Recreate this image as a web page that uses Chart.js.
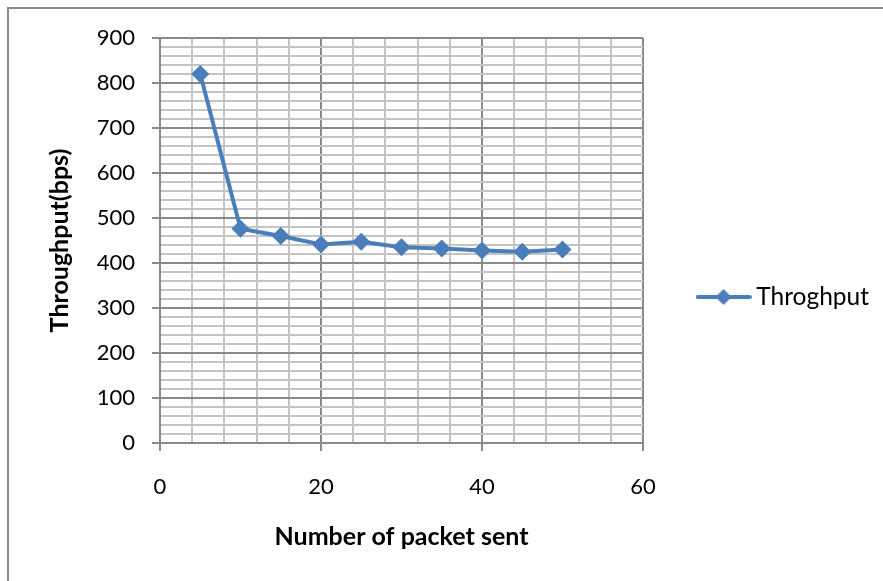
<!DOCTYPE html>
<html>
<head>
<meta charset="utf-8">
<script src="https://cdn.jsdelivr.net/npm/chart.js@4.4.1/dist/chart.umd.min.js"></script>
<style>
  html, body { margin: 0; padding: 0; background: #fff; }
  #wrap { position: relative; width: 883px; height: 581px; }
  #frame { position: absolute; left: 7px; top: 7px; right: 0; bottom: 0; border-left: 2px solid #8a8a8a; border-top: 2px solid #8a8a8a; }
  canvas { position: absolute; left: 0; top: 0; }
</style>
</head>
<body>
<div id="wrap">
  <div id="frame"></div>
  <canvas id="chart" width="883" height="581"></canvas>
</div>
<script>
// packets sent vs throughput
let packets = [5, 10, 15, 20, 25, 30, 35, 40, 45, 50];
let throughput = [820, 476, 460, 441, 447, 435, 432, 428, 425, 430];
let xLabels = [0, 20, 40, 60];
let yLabels = [0, 100, 200, 300, 400, 500, 600, 700, 800, 900];

const blue = '#4a7ebb';
const major = '#8a8a8a';
const minor = '#c4c4c4';

// legend icon: line with a diamond on it
function legendIcon() {
    let c = document.createElement('canvas');
    c.width = 56; c.height = 20;
    let g = c.getContext('2d');
    g.strokeStyle = blue;
    g.lineWidth = 4;
    g.lineCap = 'round';
    g.beginPath(); g.moveTo(2, 10); g.lineTo(54, 10); g.stroke();
    g.fillStyle = blue;
    g.beginPath(); g.moveTo(28, 2); g.lineTo(36, 10); g.lineTo(28, 18); g.lineTo(20, 10); g.closePath(); g.fill();
    return c;
}

// keep the legend column a fixed width so the plot ends where it should
const legendWidth = {
    id: 'legendWidth',
    afterInit(chart) {
        const lg = chart.legend;
        const fit = lg.fit.bind(lg);
        lg.fit = function () { fit(); this.width = 240; };
    }
};

let points = [];
for (let i = 0; i < packets.length; i++) {
    points.push({ x: packets[i], y: throughput[i] });
}

const ctx = document.getElementById('chart').getContext('2d');
const graph = new Chart(ctx, {
    type: 'scatter',
    data: {
        datasets: [{
            label: 'Throghput',
            data: points,
            showLine: true,
            borderColor: blue,
            backgroundColor: blue,
            borderWidth: 4,
            pointStyle: 'rectRot',
            pointRadius: 9,
            pointHoverRadius: 9,
            pointBorderWidth: 0
        }]
    },
    plugins: [legendWidth],
    options: {
        responsive: false,
        animation: false,
        layout: { padding: { left: 0, top: 38, right: 0, bottom: 25 } },
        plugins: {
            tooltip: { enabled: false },
            legend: {
                position: 'right',
                labels: {
                    usePointStyle: true,
                    pointStyle: legendIcon(),
                    pointStyleWidth: 41,
                    padding: 60,
                    color: '#000',
                    font: { family: 'Lato', size: 24.5 }
                }
            }
        },
        scales: {
            x: {
                type: 'linear',
                min: 0, max: 60,
                afterFit: function (scale) { scale.height = 113; },
                ticks: {
                    stepSize: 4,
                    autoSkip: false,
                    maxRotation: 0,
                    padding: 23,
                    color: '#000',
                    font: { family: 'Lato', size: 22 },
                    callback: v => xLabels.includes(v) ? v : ''
                },
                grid: {
                    color: c => xLabels.includes(c.tick.value) ? major : minor,
                    tickColor: c => xLabels.includes(c.tick.value) ? major : 'rgba(0,0,0,0)',
                    lineWidth: 2,
                    tickLength: 8
                },
                border: { color: major, width: 2 },
                title: {
                    display: true,
                    text: 'Number of packet sent',
                    color: '#000',
                    font: { family: 'Lato', size: 25, weight: 'bold' },
                    padding: { top: 0, bottom: 4 }
                }
            },
            y: {
                min: 0, max: 900,
                afterFit: function (scale) { scale.width = 160; },
                ticks: {
                    stepSize: 20,
                    autoSkip: false,
                    maxTicksLimit: 100,
                    padding: 17,
                    color: '#000',
                    font: { family: 'Lato', size: 22 },
                    callback: v => yLabels.includes(v) ? v : ''
                },
                grid: {
                    color: c => yLabels.includes(c.tick.value) ? major : minor,
                    tickColor: c => yLabels.includes(c.tick.value) ? major : 'rgba(0,0,0,0)',
                    lineWidth: 2,
                    tickLength: 8
                },
                border: { color: major, width: 2 },
                title: {
                    display: true,
                    text: 'Throughput(bps)',
                    color: '#000',
                    font: { family: 'Lato', size: 25, weight: 'bold' },
                    padding: { top: 45, bottom: 0 }
                }
            }
        }
    }
});
</script>
</body>
</html>
